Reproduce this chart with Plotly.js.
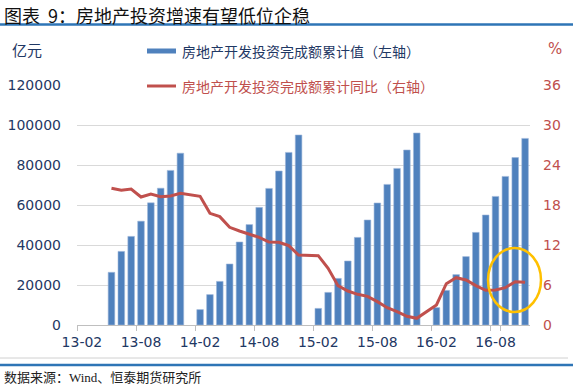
<!DOCTYPE html>
<html>
<head>
<meta charset="utf-8">
<script src="https://cdn.plot.ly/plotly-3.0.1.min.js"></script>
<style>html,body{margin:0;padding:0;background:#fff;}#chart{width:573px;height:387px;}</style>
</head>
<body>
<div id="chart"></div>
<script>
// ---- data ----
const months = ['13-02','13-03','13-04','13-05','13-06','13-07','13-08','13-09','13-10','13-11','13-12',
  '14-01','14-02','14-03','14-04','14-05','14-06','14-07','14-08','14-09','14-10','14-11','14-12',
  '15-01','15-02','15-03','15-04','15-05','15-06','15-07','15-08','15-09','15-10','15-11','15-12',
  '16-01','16-02','16-03','16-04','16-05','16-06','16-07','16-08','16-09','16-10','16-11'];
const tickLabels = ['13-02','13-08','14-02','14-08','15-02','15-08','16-02','16-08'];
// 房地产开发投资完成额累计值（亿元）
const investCum = [null,null,null,26350,36800,44300,51900,61100,68400,77300,85900,
  null,7700,15200,21800,30500,41500,50200,58800,68300,77000,86300,95000,
  null,8300,16300,23300,32000,43800,52500,61000,70300,78300,87500,96000,
  null,8700,17300,25200,34200,46300,55000,64300,74300,83700,93300];
// 房地产开发投资完成额累计同比（%）
const investYoY = [null,null,null,20.5,20.2,20.4,19.2,19.65,19.25,19.35,19.75,
  null,19.3,16.75,16.25,14.65,14.1,13.6,13.15,12.45,12.4,11.9,10.5,
  null,10.4,8.5,5.9,5.1,4.6,4.3,3.5,2.6,2.0,1.3,1.0,
  null,3.0,6.2,7.1,6.75,5.9,5.2,5.25,5.6,6.5,6.4];
const leftTicks = [0,20000,40000,60000,80000,100000,120000];
const leftTickText = ['0','20000','40000','60000','80000','100000','120000'];
const rightTicks = [0,6,12,18,24,30,36];
const seriesNames = ['房地产开发投资完成额累计值（左轴）','房地产开发投资完成额累计同比（右轴）'];
const titleText = '图表\u00a0\u00a09：房地产投资增速有望低位企稳';
const sourceText = '数据来源：Wind、恒泰期货研究所';

// ---- layout helpers (pixel -> paper) ----
const W = 573, H = 387;
const L = 77, R = 530, T = 85, B = 325;
const px = x => (x - L) / (R - L);
const py = y => (B - y) / (B - T);

const NAVY = '#1F3864';
const RED = '#C0504D';
const BLUE = '#4F81BD';
const CJK = '"Noto Sans CJK SC", "Noto Sans", sans-serif';
const NUM = '"DejaVu Sans", Verdana, sans-serif';

const traces = [
  {type:'bar', x: months, y: investCum, name: seriesNames[0],
   marker:{color: BLUE, line:{color:'#9DB7DA', width:0.6}}, yaxis:'y', showlegend:false},
  {type:'scatter', mode:'lines', x: months, y: investYoY, name: seriesNames[1],
   line:{color: RED, width:3}, connectgaps:true, yaxis:'y2', showlegend:false}
];

const layout = {
  width: W, height: H,
  margin:{l:L, r:W-R, t:T, b:H-B, pad:0},
  paper_bgcolor:'#fff', plot_bgcolor:'#fff',
  bargap: 0.33,
  showlegend:false,
  xaxis:{type:'category', categoryorder:'array', categoryarray: months,
    range:[-0.5, months.length-0.5],
    tickmode:'array', tickvals: tickLabels, ticktext: tickLabels, tickangle:0,
    tickson:'boundaries', ticks:'outside', ticklen:5, tickcolor:'#BFBFBF', tickwidth:1,
    ticklabelstandoff:4,
    showgrid:false, showline:true, linecolor:'#BFBFBF', linewidth:1,
    tickfont:{family:NUM, size:14, color:NAVY}, zeroline:false},
  yaxis:{range:[0,120000], tickmode:'array', tickvals: leftTicks, ticktext: leftTickText,
    showgrid:true, gridcolor:'#D9D9D9', gridwidth:1, zeroline:false, showline:false,
    ticks:'', ticklabelstandoff:15, tickfont:{family:NUM, size:14, color:NAVY}},
  yaxis2:{range:[0,36], tickmode:'array', tickvals: rightTicks, overlaying:'y', side:'right',
    showgrid:false, zeroline:false, showline:false, ticks:'', ticklabelstandoff:12,
    tickfont:{family:NUM, size:14, color:RED}},
  shapes:[
    {type:'line', xref:'paper', yref:'paper', x0:px(0), x1:px(573), y0:py(24.5), y1:py(24.5), line:{color:'#2E75B6', width:2.5}},
    {type:'line', xref:'paper', yref:'paper', x0:px(0), x1:px(568), y0:py(358), y1:py(358), line:{color:'#D0D0D0', width:1}},
    {type:'line', xref:'paper', yref:'paper', x0:px(0), x1:px(573), y0:py(365), y1:py(365), line:{color:'#2E75B6', width:2.5}},
    {type:'rect', xref:'paper', yref:'paper', layer:'above', x0:px(139), x1:px(442), y0:py(79), y1:py(93), fillcolor:'#fff', line:{width:0}},
    {type:'rect', xref:'paper', yref:'paper', layer:'above', x0:px(147), x1:px(176), y0:py(48.5), y1:py(53.5), fillcolor:BLUE, line:{width:0}},
    {type:'line', xref:'paper', yref:'paper', layer:'above', x0:px(147), x1:px(176), y0:py(86), y1:py(86), line:{color:RED, width:3}},
    {type:'circle', xref:'paper', yref:'paper', layer:'above', x0:px(488), x1:px(541), y0:py(312), y1:py(248), line:{color:'#FFC000', width:2.5}}
  ],
  annotations:[
    {xref:'paper', yref:'paper', x:px(2), y:py(14.5), xanchor:'left', yanchor:'middle', showarrow:false,
     text:titleText, font:{family:CJK, size:18, color:'#111'}},
    {xref:'paper', yref:'paper', x:px(180), y:py(51), xanchor:'left', yanchor:'middle', showarrow:false,
     text:seriesNames[0], font:{family:CJK, size:14, color:NAVY}},
    {xref:'paper', yref:'paper', x:px(180), y:py(86), xanchor:'left', yanchor:'middle', showarrow:false,
     text:seriesNames[1], font:{family:CJK, size:14, color:RED}},
    {xref:'paper', yref:'paper', x:px(27), y:py(49), xanchor:'center', yanchor:'middle', showarrow:false,
     text:'亿元', font:{family:CJK, size:15, color:NAVY}},
    {xref:'paper', yref:'paper', x:px(555), y:py(49), xanchor:'center', yanchor:'middle', showarrow:false,
     text:'%', font:{family:NUM, size:15, color:RED}},
    {xref:'paper', yref:'paper', x:px(2), y:py(377), xanchor:'left', yanchor:'middle', showarrow:false,
     text:sourceText, font:{family:'"Liberation Serif", "Noto Sans CJK SC", serif', size:13, color:'#222'}}
  ]
};

Plotly.newPlot('chart', traces, layout, {staticPlot:true, displayModeBar:false});
</script>
</body>
</html>
